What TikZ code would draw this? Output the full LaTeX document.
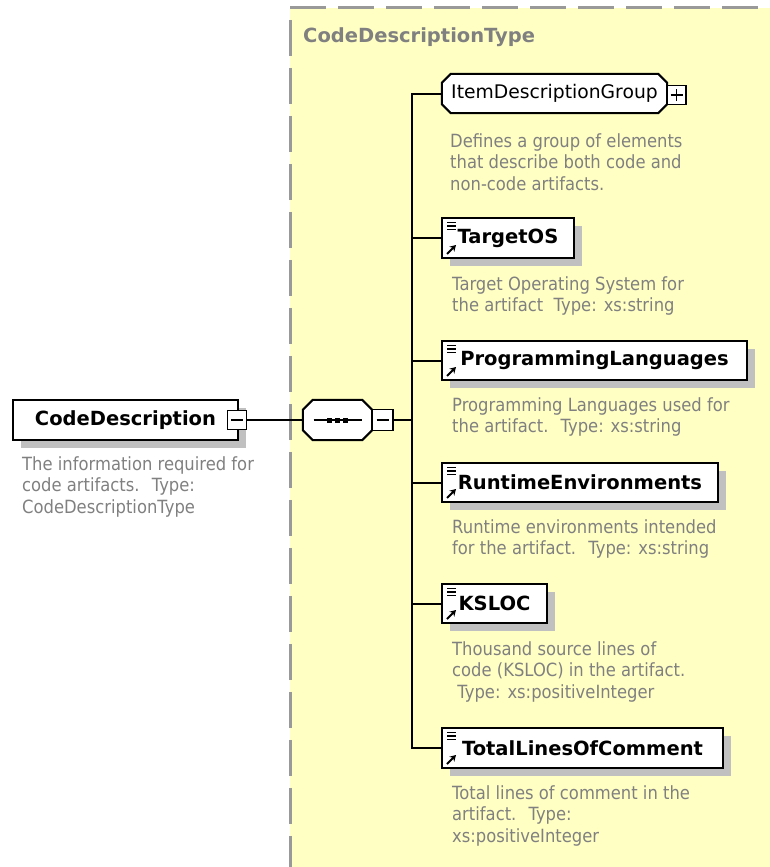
\documentclass[tikz,border=0pt]{standalone}
\usepackage{fontspec}
\setmainfont{DejaVu Sans}
\newfontfamily\notefont{DejaVu Sans}[FakeStretch=0.9]
\usetikzlibrary{shadows,calc,arrows.meta}

\definecolor{typeyellow}{HTML}{FFFFC4}
\definecolor{shadowgray}{HTML}{C0C0C0}
\definecolor{notegray}{HTML}{808080}
\definecolor{framegray}{HTML}{999999}

\pgfdeclarelayer{frame}
\pgfdeclarelayer{outline}
\pgfsetlayers{frame,outline,main}

\begin{document}
\begin{tikzpicture}[x=1pt, y=-1pt,
  elem/.style={draw, line width=2pt, fill=white, inner sep=0pt,
    minimum height=39pt, font=\bfseries\fontsize{19.5}{23}\selectfont,
    drop shadow={shadow xshift=8pt, shadow yshift=-8pt, fill=shadowgray, opacity=1}},
  leaf/.style={elem, path picture={
      \foreach \dy in {4.5,8,11.5}
        \draw[line width=1.3pt] ([xshift=5pt,yshift=-\dy pt]path picture bounding box.north west) -- ++(9pt,0pt);
      \draw[line width=2pt, -{Stealth[length=6pt,width=7pt]}]
        ([xshift=5pt,yshift=4pt]path picture bounding box.south west) -- ++(9pt,9pt);}},
  % octagon outlines are drawn afterwards on the outline layer
  octo/.style={inner sep=0pt, minimum height=39pt},
  toggle/.style={draw, line width=1.5pt, fill=white, minimum size=19pt, inner sep=0pt},
  minus/.style={toggle, path picture={
      \draw[line width=1.5pt] ([xshift=-6pt]path picture bounding box.center) -- ([xshift=6pt]path picture bounding box.center);}},
  plus/.style={toggle, path picture={
      \draw[line width=1.5pt] ([xshift=-6pt]path picture bounding box.center) -- ([xshift=6pt]path picture bounding box.center);
      \draw[line width=1.5pt] ([yshift=-6pt]path picture bounding box.center) -- ([yshift=6pt]path picture bounding box.center);}},
  note/.style={anchor=base west, align=left, text=notegray, inner sep=0pt,
    font=\notefont\fontsize{18.2}{21.5}\selectfont},
  wire/.style={line width=2pt},
]
\useasboundingbox (0,0) rectangle (770,867);

% === complex type frame ===
\begin{pgfonlayer}{frame}
\fill[typeyellow] (290,8) rectangle (775,872);
\draw[framegray, line width=3pt, dash pattern=on 36pt off 12pt] (290,872) -- (290,8) -- (775,8);
\end{pgfonlayer}
\node[anchor=base west, inner sep=0pt, text=notegray, font=\bfseries\fontsize{19.5}{23}\selectfont]
  (typetitle) at (303,43) {CodeDescriptionType};

% === root element ===
\node[elem, minimum width=225pt, minimum height=40pt] (codedesc) at (125.5,420) {CodeDescription};
\node[minus] (cdminus) at (237,420) {};
\node[note] (codenote) at (22,513) {The information required for\\code artifacts.~ Type:\\CodeDescriptionType};

% === sequence ===
\node[octo, minimum width=69pt, minimum height=40pt] (seq) at (337.5,420) {};
\node[minus, minimum size=21pt] (seqminus) at (382.5,420) {};
\coordinate (bus) at (412,420);

% === children ===
\node[octo, minimum width=225pt, font=\fontsize{18.75}{22}\selectfont] (itemgroup) at (554.5,93.5) {ItemDescriptionGroup};
\node[plus] (igplus) at (676.5,95) {};
\node[note] (groupnote) at (450,190) {Defines a group of elements\\that describe both code and\\non-code artifacts.};

\node[leaf, minimum width=132pt, minimum height=40pt] (targetos) at (508,238) {TargetOS};
\node[note] (targetnote) at (452,311.5) {Target Operating System for\\the artifact~ Type: xs:string};

\node[leaf, minimum width=305pt] (proglang) at (594.5,360.5) {ProgrammingLanguages};
\node[note] (langnote) at (452,432.5) {Programming Languages used for\\the artifact.~ Type: xs:string};

\node[leaf, minimum width=276pt] (runtime) at (580,482.5) {RuntimeEnvironments};
\node[note] (runtimenote) at (452,554.5) {Runtime environments intended\\for the artifact.~ Type: xs:string};

\node[leaf, minimum width=105pt] (ksloc) at (494.5,603.5) {KSLOC};
\node[note] (kslocnote) at (452,698) {Thousand source lines of\\code (KSLOC) in the artifact.\\~Type: xs:positiveInteger};

\node[leaf, minimum width=281pt, minimum height=40pt] (totallines) at (582.5,748) {TotalLinesOfComment};
\node[note] (totalnote) at (452,842) {Total lines of comment in the\\artifact.~ Type:\\xs:positiveInteger};

% === octagons: shadow, then white body ===
\begin{pgfonlayer}{outline}
\foreach \o/\c in {seq/10,itemgroup/9} {
  \fill[shadowgray, xshift=8pt, yshift=-8pt]
    let \p1=(\o.north west), \p2=(\o.south east) in
    (\x1+\c pt,\y1) -- (\x2-\c pt,\y1) -- (\x2,\y1-\c pt) -- (\x2,\y2+\c pt)
    -- (\x2-\c pt,\y2) -- (\x1+\c pt,\y2) -- (\x1,\y2+\c pt) -- (\x1,\y1-\c pt) -- cycle;
  \filldraw[fill=white, line width=2pt]
    let \p1=(\o.north west), \p2=(\o.south east) in
    (\x1+\c pt,\y1) -- (\x2-\c pt,\y1) -- (\x2,\y1-\c pt) -- (\x2,\y2+\c pt)
    -- (\x2-\c pt,\y2) -- (\x1+\c pt,\y2) -- (\x1,\y2+\c pt) -- (\x1,\y1-\c pt) -- cycle;
}
\end{pgfonlayer}
% sequence mark
\draw[line width=1.6pt] ([xshift=-24pt]seq.center) -- ([xshift=24pt]seq.center);
\foreach \dx in {-8,0,8}
  \fill ([xshift=\dx pt]seq.center) +(-2.5pt,-2.5pt) rectangle +(2.5pt,2.5pt);

% === connectors ===
\draw[wire] (cdminus.east) -- (seq.west);
\draw[wire] (seqminus.east) -- (bus);
\foreach \c in {itemgroup,targetos,proglang,runtime,ksloc,totallines}
  \draw[wire] (bus) |- (\c.west);
\end{tikzpicture}
\end{document}
